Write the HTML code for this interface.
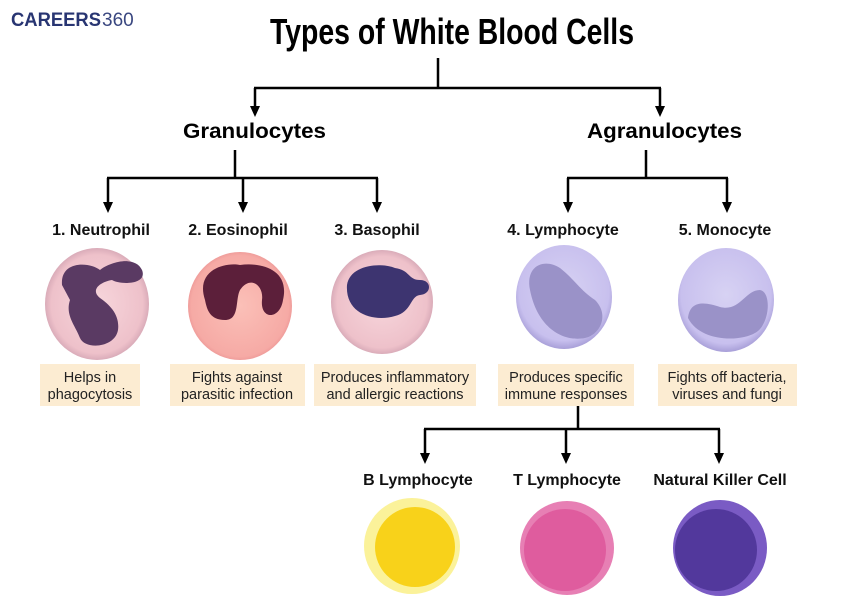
<!DOCTYPE html>
<html><head><meta charset="utf-8"><style>
body{margin:0;background:#fff;}
svg{display:block}
.t{font-family:"Liberation Sans",sans-serif;font-weight:bold;}
.l{font-family:"Liberation Sans",sans-serif;font-weight:bold;font-size:16px;fill:#111;text-anchor:middle}
.d{font-family:"Liberation Sans",sans-serif;font-size:14.5px;fill:#222;text-anchor:middle}
</style></head><body>
<svg width="860" height="600" viewBox="0 0 860 600">
<defs>
<radialGradient id="pk" cx="50%" cy="50%" r="55%"><stop offset="0" stop-color="#f7d6dc"/><stop offset=".8" stop-color="#eec1ca"/><stop offset="1" stop-color="#c99aab"/></radialGradient>
<radialGradient id="eo" cx="50%" cy="50%" r="55%"><stop offset="0" stop-color="#fbc0b8"/><stop offset=".85" stop-color="#f6aaa5"/><stop offset="1" stop-color="#e58a8c"/></radialGradient>
<radialGradient id="lv" cx="50%" cy="45%" r="55%"><stop offset="0" stop-color="#d7d2f3"/><stop offset=".85" stop-color="#c8c0ee"/><stop offset="1" stop-color="#a89fd8"/></radialGradient>
</defs>
<text x="11" y="26" font-family="Liberation Sans,sans-serif" font-weight="bold" font-size="19" fill="#283572" textLength="90" lengthAdjust="spacingAndGlyphs">CAREERS</text>
<text x="102" y="26" font-family="Liberation Sans,sans-serif" font-size="19" fill="#3a4780">360</text>
<text class="t" x="270" y="44" font-size="36" fill="#000" textLength="364" lengthAdjust="spacingAndGlyphs">Types of White Blood Cells</text>
<g stroke="#000" stroke-width="2.5" fill="none">
<path d="M438,58 V88 M254,88 H661 M255,88 V108 M660,88 V108"/>
<path d="M235,150 V178 M107,178 H378 M108,178 V204 M243,178 V204 M377,178 V204"/>
<path d="M646,150 V178 M567,178 H728 M568,178 V204 M727,178 V204"/>
<path d="M578,405 V429 M424,429 H720 M425,429 V455 M566,429 V455 M719,429 V455"/>
</g>
<g fill="#000">
<path d="M250,106 h10 l-5,11z M655,106 h10 l-5,11z"/>
<path d="M103,202 h10 l-5,11z M238,202 h10 l-5,11z M372,202 h10 l-5,11z M563,202 h10 l-5,11z M722,202 h10 l-5,11z"/>
<path d="M420,453 h10 l-5,11z M561,453 h10 l-5,11z M714,453 h10 l-5,11z"/>
</g>
<text class="t" x="183" y="138" font-size="21" textLength="143" lengthAdjust="spacingAndGlyphs">Granulocytes</text>
<text class="t" x="587" y="138" font-size="21" textLength="155" lengthAdjust="spacingAndGlyphs">Agranulocytes</text>
<text class="l" x="101" y="235">1. Neutrophil</text>
<text class="l" x="238" y="235">2. Eosinophil</text>
<text class="l" x="377" y="235">3. Basophil</text>
<text class="l" x="563" y="235">4. Lymphocyte</text>
<text class="l" x="725" y="235">5. Monocyte</text>
<ellipse cx="97" cy="304" rx="52" ry="56" fill="url(#pk)"/>
<path d="M62,285 C60,260 90,262 100,270 C110,262 135,255 142,270 C148,285 120,285 112,280 C100,282 90,290 100,298 C110,305 120,315 118,330 C115,348 85,350 80,338 C75,325 65,315 70,300 Z" fill="#5a3a63"/>
<ellipse cx="240" cy="306" rx="52" ry="54" fill="url(#eo)"/>
<path d="M205,300 C195,270 225,262 240,265 C262,262 290,270 283,300 C280,320 260,320 262,300 C264,285 250,275 240,290 C235,300 240,320 225,320 C210,320 207,310 205,300 Z" fill="#5c1f3a"/>
<ellipse cx="382" cy="302" rx="51" ry="52" fill="url(#pk)"/>
<path d="M347,285 C350,265 380,262 395,268 C410,270 408,280 420,280 C432,280 432,294 420,295 C410,296 412,312 395,316 C375,322 345,315 347,285 Z" fill="#3d3470"/>
<ellipse cx="564" cy="297" rx="48" ry="52" fill="url(#lv)"/>
<path d="M530,290 C525,265 545,258 560,268 C575,280 580,290 595,300 C610,315 600,335 585,338 C565,342 538,330 530,290 Z" fill="#9a92c8"/>
<ellipse cx="726" cy="300" rx="48" ry="52" fill="url(#lv)"/>
<path d="M688,318 C690,300 705,302 720,307 C740,312 745,290 760,290 C772,292 770,325 755,333 C740,342 700,342 688,318 Z" fill="#9a92c8"/>
<g fill="#fcecd2">
<rect x="40" y="364" width="100" height="42"/><rect x="170" y="364" width="135" height="42"/><rect x="314" y="364" width="162" height="42"/><rect x="498" y="364" width="136" height="42"/><rect x="658" y="364" width="139" height="42"/>
</g>
<text class="d" x="90" y="382">Helps in</text><text class="d" x="90" y="399">phagocytosis</text>
<text class="d" x="237" y="382">Fights against</text><text class="d" x="237" y="399">parasitic infection</text>
<text class="d" x="395" y="382">Produces inflammatory</text><text class="d" x="395" y="399">and allergic reactions</text>
<text class="d" x="566" y="382">Produces specific</text><text class="d" x="566" y="399">immune responses</text>
<text class="d" x="727" y="382">Fights off bacteria,</text><text class="d" x="727" y="399">viruses and fungi</text>
<text class="l" x="418" y="485">B Lymphocyte</text>
<text class="l" x="567" y="485">T Lymphocyte</text>
<text class="l" x="720" y="485">Natural Killer Cell</text>
<ellipse cx="412" cy="546" rx="48" ry="48" fill="#fbf29a"/>
<ellipse cx="415" cy="547" rx="40" ry="40" fill="#f8d21a"/>
<ellipse cx="567" cy="548" rx="47" ry="47" fill="#e77fb4"/>
<ellipse cx="565" cy="550" rx="41" ry="41" fill="#df5c9e"/>
<ellipse cx="720" cy="548" rx="47" ry="48" fill="#7a5bc4"/>
<ellipse cx="716" cy="550" rx="41" ry="41" fill="#52389c"/>
</svg>
</body></html>
